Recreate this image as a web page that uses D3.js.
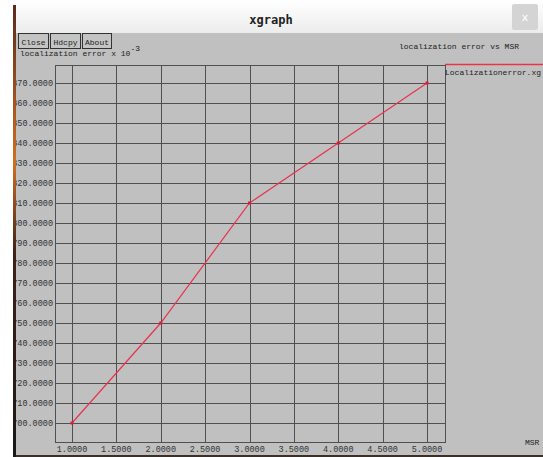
<!DOCTYPE html>
<html><head><meta charset="utf-8">
<script src="https://cdn.jsdelivr.net/npm/d3@7"></script>
<style>body{margin:0;background:#fff;overflow:hidden}svg{display:block}</style>
</head><body>
<script>
const xValues = [1, 2, 3, 4, 5];
const errValues = [700, 750, 810, 840, 870];
const xTicks = [1, 1.5, 2, 2.5, 3, 3.5, 4, 4.5, 5];
const yTicks = [700, 710, 720, 730, 740, 750, 760, 770, 780, 790, 800, 810, 820, 830, 840, 850, 860, 870];
const buttons = ["Close", "Hdcpy", "About"];
const windowTitle = "xgraph";
const chartTitle = "localization error vs MSR";
const yAxisTitle = "localization error x 10";
const xAxisTitle = "MSR";
const legendName = "Localizationerror.xg";

(function(){
const W = 543, H = 457;
const svg = d3.select("body").append("svg").attr("width", W).attr("height", H);
const mono = "'Liberation Mono','DejaVu Sans Mono',monospace";

const defs = svg.append("defs");
const g1 = defs.append("linearGradient").attr("id","tb").attr("x1",0).attr("x2",0).attr("y1",0).attr("y2",1);
g1.append("stop").attr("offset","0").attr("stop-color","#ffffff");
g1.append("stop").attr("offset","1").attr("stop-color","#ececec");
svg.append("rect").attr("x",0).attr("y",0).attr("width",W).attr("height",H).attr("fill","#ffffff");
svg.append("rect").attr("x",15).attr("y",0).attr("width",W-15).attr("height",33).attr("fill","url(#tb)");
svg.append("rect").attr("x",15).attr("y",33).attr("width",W-15).attr("height",422).attr("fill","#c0c0c0");
const g2 = defs.append("linearGradient").attr("id","lf").attr("x1",0).attr("x2",0).attr("y1",0).attr("y2",1);
g2.append("stop").attr("offset","0").attr("stop-color","#5a2a1a");
g2.append("stop").attr("offset","0.35").attr("stop-color","#d07020");
g2.append("stop").attr("offset","0.55").attr("stop-color","#402018");
g2.append("stop").attr("offset","1").attr("stop-color","#181818");
svg.append("rect").attr("x",15).attr("y",455).attr("width",W-15).attr("height",2).attr("fill","#3a3028");
svg.append("text").attr("x",271).attr("y",24).attr("text-anchor","middle")
  .attr("font-family","'DejaVu Sans Mono',monospace").attr("font-weight","bold").attr("font-size",12).attr("fill","#222").text(windowTitle);
svg.append("rect").attr("x",512).attr("y",4).attr("width",26).attr("height",26).attr("rx",2).attr("fill","#d4d4d4");
svg.append("text").attr("x",525).attr("y",21).attr("text-anchor","middle")
  .attr("font-family","'DejaVu Sans',sans-serif").attr("font-size",11).attr("fill","#fff").text("x");

const bx = [18, 50, 82], bw = [30, 30, 29];
buttons.forEach((b,i)=>{
  svg.append("rect").attr("x",bx[i]+0.5).attr("y",33.5).attr("width",bw[i]).attr("height",15)
    .attr("fill","#c4c4c4").attr("stroke","#333").attr("stroke-width",1);
  svg.append("text").attr("x",bx[i]+bw[i]/2+0.5).attr("y",45).attr("text-anchor","middle")
    .attr("font-family",mono).attr("font-size",8).attr("fill","#222").text(b);
});
const yt = svg.append("text").attr("x",20).attr("y",56).attr("font-family",mono).attr("font-size",8).attr("fill","#222");
yt.append("tspan").text(yAxisTitle);
yt.append("tspan").attr("dy",-5).attr("font-size",8).text("-3");
svg.append("text").attr("x",399).attr("y",49).attr("font-family",mono).attr("font-size",8).attr("fill","#222").text(chartTitle);

const pL = 55, pR = 445, pT = 65, pB = 442;
const x = d3.scaleLinear().domain([1, 5]).range([72, 427]);
const y = d3.scaleLinear().domain([700, 870]).range([423, 83]);

const grid = svg.append("g").attr("stroke","#505050").attr("stroke-width",1);
grid.append("rect").attr("x",pL+0.5).attr("y",pT+0.5).attr("width",pR-pL).attr("height",pB-pT).attr("fill","none");
xTicks.forEach(t=>{
  const px = Math.round(x(t))+0.5;
  grid.append("line").attr("x1",px).attr("x2",px).attr("y1",pT).attr("y2",pB);
});
yTicks.forEach(t=>{
  const py = Math.round(y(t))+0.5;
  grid.append("line").attr("x1",pL).attr("x2",pR).attr("y1",py).attr("y2",py);
});

const labels = svg.append("g").attr("font-family",mono).attr("font-size",8.5).attr("fill","#333");
yTicks.forEach(t=>{
  labels.append("text").attr("x",53).attr("y",y(t)+3).attr("text-anchor","end").text(d3.format(".4f")(t));
});
xTicks.forEach(t=>{
  labels.append("text").attr("x",x(t)).attr("y",452).attr("text-anchor","middle").text(d3.format(".4f")(t));
});
svg.append("text").attr("x",525).attr("y",445).attr("font-family",mono).attr("font-size",8).attr("fill","#222").text(xAxisTitle);

const pts = xValues.map((v,i)=>[v, errValues[i]]);
svg.append("path").attr("d", d3.line().x(d=>x(d[0])).y(d=>y(d[1]))(pts))
  .attr("fill","none").attr("stroke","#e8344a").attr("stroke-width",1.2);
svg.selectAll(".pt").data(pts).enter().append("rect")
  .attr("x",d=>x(d[0])-1.5).attr("y",d=>y(d[1])-1.5).attr("width",3).attr("height",3).attr("fill","#e01838");

svg.append("line").attr("x1",445).attr("x2",W).attr("y1",64.5).attr("y2",64.5).attr("stroke","#e8344a").attr("stroke-width",1.5);
svg.append("text").attr("x",445).attr("y",75).attr("font-family",mono).attr("font-size",8).attr("fill","#222").text(legendName);
svg.append("rect").attr("x",0).attr("y",0).attr("width",13).attr("height",H).attr("fill","#ffffff");
svg.append("rect").attr("x",13).attr("y",5).attr("width",3).attr("height",452).attr("fill","url(#lf)");
})();
</script>
</body></html>
